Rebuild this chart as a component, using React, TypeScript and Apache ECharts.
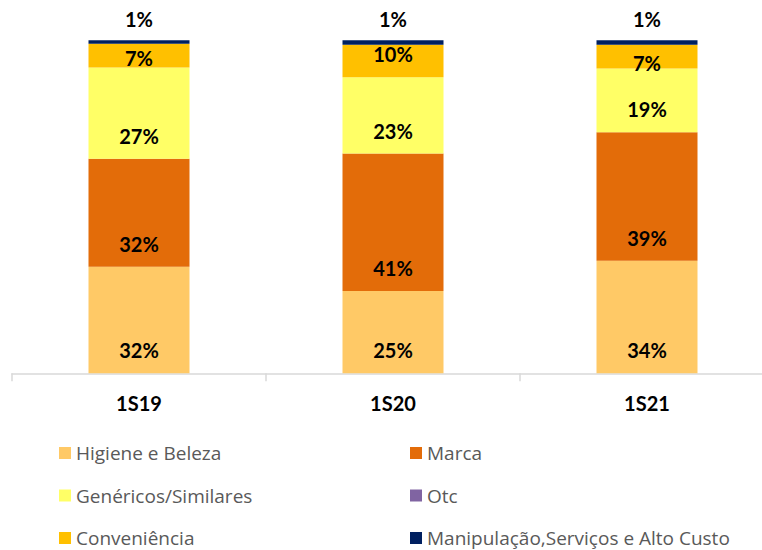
import React, { useEffect, useRef } from "react";
import * as echarts from "echarts";

const categories = ["1S19", "1S20", "1S21"];
const higiene = [32.0, 24.7, 33.8];
const marca = [32.4, 41.3, 38.6];
const genericos = [27.4, 22.9, 19.1];
const otc = [0, 0, 0];
const conveniencia = [7.2, 9.8, 7.2];
const manipulacao = [1.0, 1.3, 1.3];

const seriesNames = [
  "Higiene e Beleza",
  "Marca",
  "Genéricos/Similares",
  "Otc",
  "Conveniência",
  "Manipulação,Serviços e Alto Custo",
];
const colors = ["#FFC966", "#E36C09", "#FFFF66", "#8064A2", "#FFC000", "#002060"];

const LABEL_FONT = "Lato";
const LEGEND_FONT = "Open Sans";

export default function App() {
  const ref = useRef<HTMLDivElement>(null);
  useEffect(() => {
    document.body.style.margin = "0";
    if (!ref.current) return;
    const chart = echarts.init(ref.current, undefined, { renderer: "svg" });
    const labelBase = {
      show: true,
      fontFamily: LABEL_FONT,
      fontWeight: "bold" as const,
      fontSize: 20,
      color: "#000000",
      formatter: (p: any) => Math.round(p.value) + "%",
    };
    const values = [higiene, marca, genericos, otc, conveniencia, manipulacao];
    const series = values.map((vals, i) => {
      let label: any = { ...labelBase, position: "insideBottom", distance: 13 };
      if (i === 3) label = { show: false };
      if (i === 5) label = { ...labelBase, position: "top", distance: 11 };
      const data = vals.map((v, j) => {
        if (i === 4 && j === 0) return { value: v, label: { offset: [0, 13] } };
        if (i === 4 && j === 2) return { value: v, label: { offset: [0, 17] } };
        return v;
      });
      return {
        name: seriesNames[i],
        type: "bar",
        stack: "total",
        barWidth: 101,
        itemStyle: { color: colors[i] },
        label,
        data,
      };
    });
    const legendText = { fontFamily: LEGEND_FONT, fontSize: 19, color: "#595959", lineHeight: 20 };
    chart.setOption({
      animation: false,
      color: colors,
      grid: {
        left: 12,
        width: 762,
        top: 40.3,
        height: 333,
        containLabel: false,
        outerBoundsMode: "none",
      },
      xAxis: {
        type: "category",
        data: categories,
        axisLine: { lineStyle: { color: "#D9D9D9", width: 1.5 } },
        axisTick: { show: true, length: 8, lineStyle: { color: "#D9D9D9", width: 1.5 } },
        axisLabel: {
          margin: 20,
          fontFamily: LABEL_FONT,
          fontWeight: "bold",
          fontSize: 20,
          color: "#000000",
        },
      },
      yAxis: {
        type: "value",
        min: 0,
        max: 100,
        show: false,
        splitLine: { show: false },
      },
      legend: [
        {
          orient: "vertical",
          left: 59,
          top: 443,
          width: 330,
          height: 200,
          padding: 0,
          itemWidth: 12,
          itemHeight: 12,
          itemGap: 22.5,
          icon: "rect",
          selectedMode: false,
          data: [seriesNames[0], seriesNames[2], seriesNames[4]],
          textStyle: legendText,
        },
        {
          orient: "vertical",
          left: 410,
          top: 443,
          width: 350,
          height: 200,
          padding: 0,
          itemWidth: 12,
          itemHeight: 12,
          itemGap: 22.5,
          icon: "rect",
          selectedMode: false,
          data: [seriesNames[1], seriesNames[3], seriesNames[5]],
          textStyle: legendText,
        },
      ],
      series,
    });
    return () => chart.dispose();
  }, []);
  return <div ref={ref} style={{ width: 762, height: 550 }} />;
}
